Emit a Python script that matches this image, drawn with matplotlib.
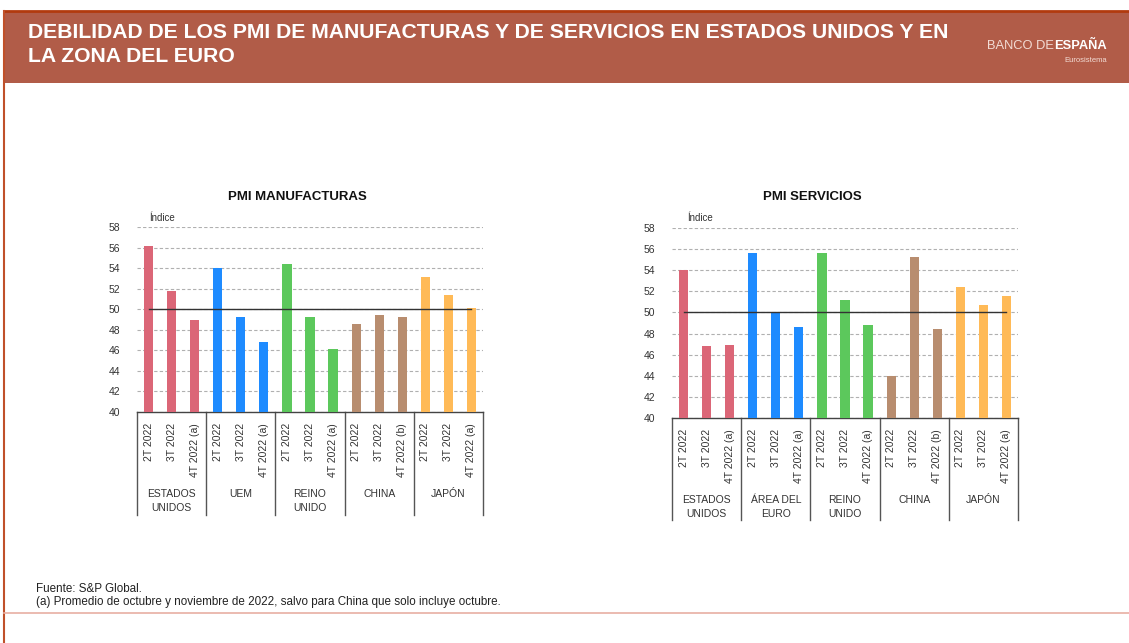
import matplotlib
matplotlib.use("Agg")
import matplotlib.pyplot as plt
from matplotlib.transforms import blended_transform_factory
from matplotlib.patches import Rectangle
from matplotlib.lines import Line2D

plt.rcParams['font.family'] = ['Liberation Sans', 'DejaVu Sans']

# ---- data ----
quarters_a = ["2T 2022", "3T 2022", "4T 2022 (a)"]
quarters_b = ["2T 2022", "3T 2022", "4T 2022 (b)"]
tick_labels = quarters_a * 3 + quarters_b + quarters_a

manuf_groups = ["ESTADOS\nUNIDOS", "UEM", "REINO\nUNIDO", "CHINA", "JAPÓN"]
serv_groups = ["ESTADOS\nUNIDOS", "ÁREA DEL\nEURO", "REINO\nUNIDO", "CHINA", "JAPÓN"]

manuf_us = [56.2, 51.8, 49.0]
manuf_uem = [54.0, 49.2, 46.8]
manuf_uk = [54.4, 49.2, 46.1]
manuf_china = [48.6, 49.4, 49.2]
manuf_japan = [53.1, 51.4, 50.1]

serv_us = [54.0, 46.8, 46.9]
serv_ea = [55.6, 50.0, 48.6]
serv_uk = [55.6, 51.2, 48.8]
serv_china = [44.0, 55.3, 48.4]
serv_japan = [52.4, 50.7, 51.6]

group_colors = ["#DB6677", "#1E8BFF", "#5CC85C", "#B88D6F", "#FFBA57"]
yticks = [40, 42, 44, 46, 48, 50, 52, 54, 56, 58]

W, H = 1129, 643
fig = plt.figure(figsize=(W / 100, H / 100), dpi=100)
fig.patch.set_facecolor("white")

# ---- header ----
fig.patches.append(Rectangle((4 / W, 1 - 83 / H), (W - 4) / W, 71 / H,
                             transform=fig.transFigure, facecolor="#B15C48",
                             edgecolor="none", zorder=0))
fig.lines.append(Line2D([4 / W, 1], [1 - 11 / H, 1 - 11 / H], transform=fig.transFigure,
                        color="#B23A0E", lw=2))
fig.lines.append(Line2D([4 / W, 4 / W], [0, 1 - 11 / H], transform=fig.transFigure,
                        color="#C0502A", lw=1.5))
fig.lines.append(Line2D([4 / W, 1], [1 - 613 / H, 1 - 613 / H], transform=fig.transFigure,
                        color="#E8AFA3", lw=1.2))

fig.text(28 / W, 1 - 33 / H,
         "DEBILIDAD DE LOS PMI DE MANUFACTURAS Y DE SERVICIOS EN ESTADOS UNIDOS Y EN",
         color="white", fontsize=15.2, fontweight="bold", va="center", ha="left")
fig.text(28 / W, 1 - 57 / H, "LA ZONA DEL EURO",
         color="white", fontsize=15.2, fontweight="bold", va="center", ha="left")
fig.text(1054 / W, 1 - 46 / H, "BANCO DE", color="#F3DCD5", fontsize=9.3,
         va="center", ha="right")
fig.text(1107 / W, 1 - 46 / H, "ESPAÑA", color="white", fontsize=9.3,
         fontweight="bold", va="center", ha="right")
fig.text(1107 / W, 1 - 61 / H, "Eurosistema", color="#F3DCD5", fontsize=5.5,
         va="center", ha="right")

# ---- footnotes ----
fig.text(36 / W, 1 - 589 / H, "Fuente: S&P Global.", fontsize=8.4, color="#222222",
         va="center")
fig.text(36 / W, 1 - 602 / H,
         "(a) Promedio de octubre y noviembre de 2022, salvo para China que solo incluye octubre.",
         fontsize=8.4, color="#222222", va="center")


def draw_panel(rect, groups_vals, group_names, title, title_x, title_y, indice_x,
               indice_y, sep_bottom, glabel_y):
    ax = fig.add_axes(rect)
    n = 0
    xs_all = []
    for gi, vals in enumerate(groups_vals):
        xs = list(range(n, n + len(vals)))
        ax.bar(xs, vals, width=0.4, color=group_colors[gi], zorder=3)
        xs_all += xs
        n += len(vals)
    ax.set_xlim(-0.5, n - 0.5)
    ax.set_ylim(40, 58)
    ax.set_yticks(yticks)
    ax.set_yticklabels([str(v) for v in yticks], fontsize=7.5, color="#333333")
    ax.tick_params(axis="y", length=0, pad=12)
    ax.tick_params(axis="x", length=0, pad=8)
    ax.set_xticks(xs_all)
    ax.set_xticklabels(tick_labels, rotation=90, fontsize=7.5, color="#333333",
                       va="top")
    ax.yaxis.grid(True, linestyle=(0, (3, 2)), color="#B0B0B0", lw=0.8, zorder=0)
    for s in ["left", "right", "top"]:
        ax.spines[s].set_visible(False)
    ax.spines["bottom"].set_color("#444444")
    ax.spines["bottom"].set_linewidth(1)
    ax.plot([0, n - 1], [50, 50], color="#333333", lw=1, zorder=4)

    trans = blended_transform_factory(ax.transData, ax.transAxes)
    bounds = [-0.5] + [i * 3 + 2.5 for i in range(len(groups_vals))]
    for b in bounds:
        ax.plot([b, b], [0, sep_bottom], transform=trans, color="#555555", lw=1,
                clip_on=False)
    for gi, name in enumerate(group_names):
        ax.text(gi * 3 + 1, glabel_y, name, transform=trans, ha="center", va="top",
                fontsize=7.5, color="#333333", linespacing=1.5)
    fig.text(title_x, title_y, title, ha="center", va="center",
             fontsize=9.5, fontweight="bold", color="#111111")
    fig.text(indice_x, indice_y, "Índice", ha="left", va="center",
             fontsize=7, color="#333333")
    return ax


# left panel
hL = 185 / H
draw_panel([137 / W, 1 - 412 / H, 346 / W, hL],
           [manuf_us, manuf_uem, manuf_uk, manuf_china, manuf_japan],
           manuf_groups, "PMI MANUFACTURAS", 297 / W, 1 - 197 / H, 149 / W,
           1 - 218 / H, -(515 - 412) / 185, -(489 - 412) / 185)

# right panel
hR = 190 / H
draw_panel([672 / W, 1 - 418 / H, 346 / W, hR],
           [serv_us, serv_ea, serv_uk, serv_china, serv_japan],
           serv_groups, "PMI SERVICIOS", 812 / W, 1 - 197 / H, 687 / W,
           1 - 218 / H, -(520 - 418) / 190, -(495 - 418) / 190)

fig.savefig("out.png", dpi=100, facecolor="white")
